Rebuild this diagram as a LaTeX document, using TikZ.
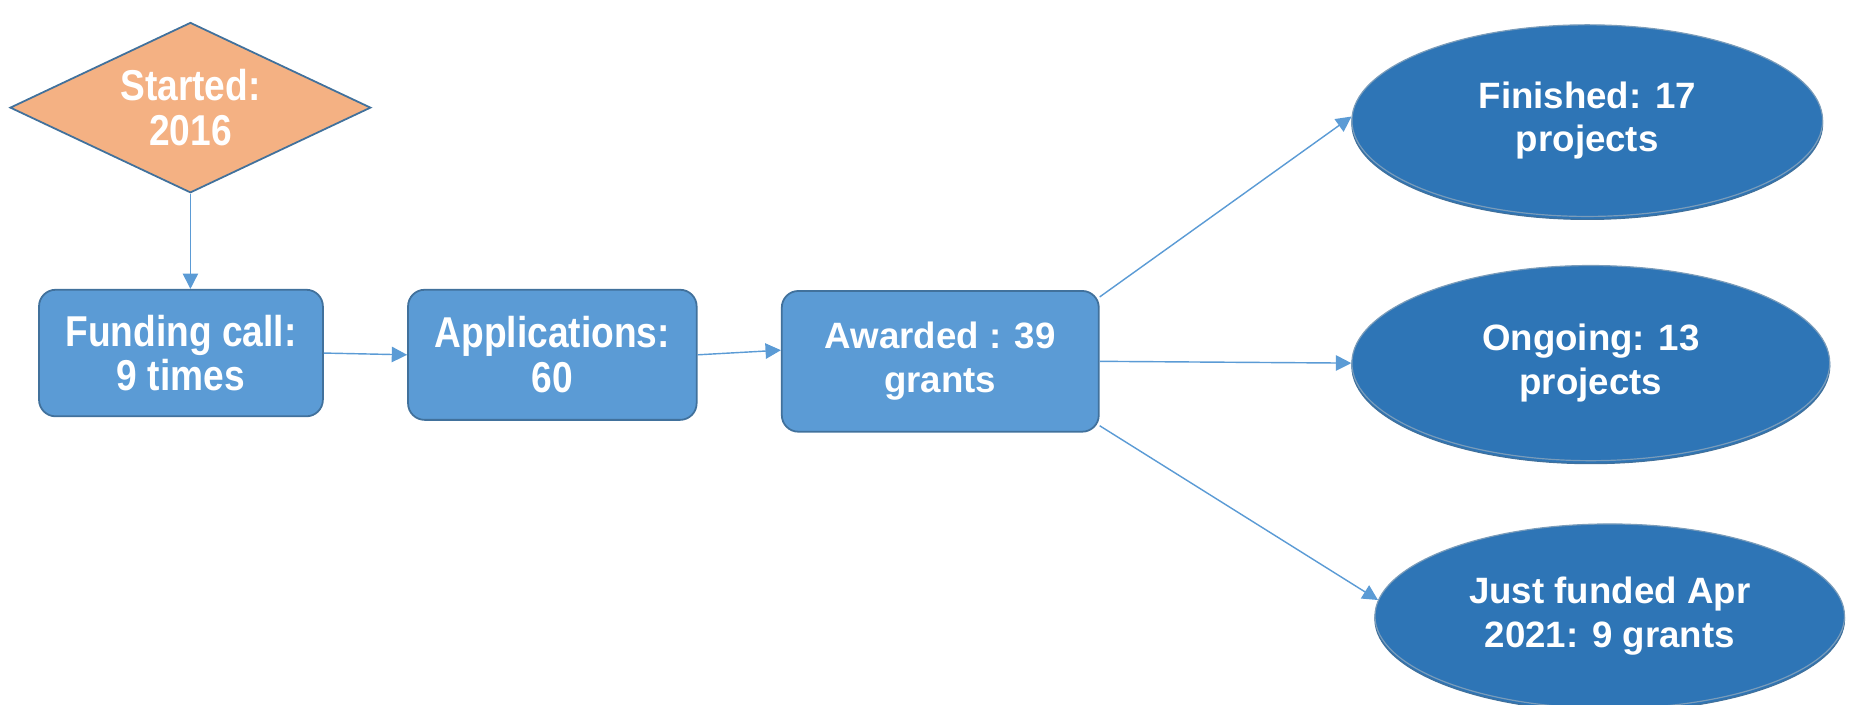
\documentclass[tikz,border=0pt]{standalone}
\usepackage{fontspec}
\setmainfont{Liberation Sans}
\newfontfamily\narrowfont{Liberation Sans}[FakeStretch=0.86]
\usetikzlibrary{shapes.geometric,arrows.meta,shadows}

\definecolor{boxblue}{HTML}{5B9BD5}
\definecolor{edgeblue}{HTML}{41719C}
\definecolor{darkblue}{HTML}{2E75B6}
\definecolor{peach}{HTML}{F4B183}

\begin{document}
\begin{tikzpicture}[x=1pt,y=-1pt,
	box/.style={draw=edgeblue,line width=1.5pt,fill=boxblue,rounded corners=14pt,
		text=white,align=center,inner sep=0pt},
	oval/.style={ellipse,draw=edgeblue!70,line width=1pt,fill=darkblue,
		copy shadow={shadow xshift=0pt,shadow yshift=-2.5pt,draw=edgeblue,fill=darkblue},
		text=white,align=center,inner sep=0pt,
		font=\fontsize{31}{37}\selectfont\bfseries},
	flow/.style={draw=boxblue,line width=1.2pt,-{Triangle[length=13pt,width=13pt]}}]

\useasboundingbox (0,0) rectangle (1565,596);

%start
\node[diamond,aspect=2.12,draw=edgeblue,line width=1.5pt,fill=peach,text=white,align=center,
	minimum width=305pt,minimum height=144pt,inner sep=0pt,
	font=\narrowfont\fontsize{36.5}{38}\selectfont\bfseries] (S) at (161,91) {Started:\\2016};

%boxes, absolute coordinates
\node[box,minimum width=240pt,minimum height=107pt,
	font=\narrowfont\fontsize{36.5}{38}\selectfont\bfseries] (F) at (153,298.5) {Funding call:\\9 times};
\node[box,minimum width=244pt,minimum height=110pt,
	font=\narrowfont\fontsize{36.5}{38}\selectfont\bfseries] (A) at (467,300) {Applications:\\60};
\node[box,minimum width=268pt,minimum height=119pt,
	font=\fontsize{31}{37}\selectfont\bfseries] (W) at (795,305.5) {Awarded : 39\\grants};

%results
\node[oval,minimum width=398pt,minimum height=162pt] (FIN) at (1342,102) {Finished: 17\\projects};
\node[oval,minimum width=404pt,minimum height=165pt] (ONG) at (1345,307) {Ongoing: 13\\projects};
\node[oval,minimum width=397pt,minimum height=156pt] (JF) at (1361,521) {Just funded Apr\\2021: 9 grants};

\draw[flow] (S.south) -- (S.south |- F.north);
\draw[flow] (F.east) -- (A.west);
\draw[flow] (A.east) -- (W.176);
\draw[flow] (W.22) -- (FIN.179);
\draw[flow] (W.east) -- (ONG.west);
\draw[flow] (W.-22) -- (JF.176);

\end{tikzpicture}
\end{document}
